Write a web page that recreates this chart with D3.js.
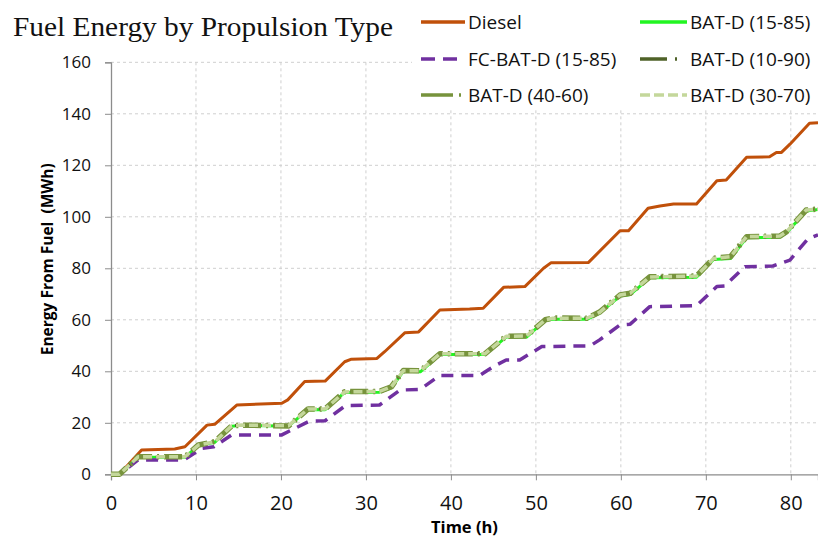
<!DOCTYPE html>
<html>
<head>
<meta charset="utf-8">
<script src="https://cdn.jsdelivr.net/npm/d3@7"></script>
<style>
  body { margin: 0; background: #fff; }
  text { font-family: "Open Sans", sans-serif; }
</style>
</head>
<body>
<svg id="chart" width="818" height="539"></svg>
<script>
// tiempos (h) y energia (MWh) de cada serie
const dieselT = [0, 1, 3.6, 7.5, 8.7, 11.3, 12.2, 14.8, 20.1, 20.8, 22.8, 25.2, 27.5, 28.3, 31.3, 32.2, 34.6, 36.2, 38.7, 42.2, 43.8, 46.2, 48.7, 50.9, 51.8, 56.2, 59.9, 60.9, 63.2, 64.6, 66.2, 68.9, 71.3, 72.4, 74.8, 77.5, 78.3, 78.9, 79.9, 82.2, 83.2];
const diesel  = [0, 0, 9.4, 9.8, 10.7, 19.1, 19.4, 26.9, 27.6, 28.9, 36, 36.2, 43.7, 44.7, 45, 47.6, 55, 55.3, 63.8, 64.2, 64.5, 72.6, 72.9, 80, 82.2, 82.3, 94.6, 94.6, 103.3, 104.2, 105, 105, 114, 114.3, 123.1, 123.3, 125, 125, 128.2, 136.3, 136.5];

const fcT = [0, 1, 3.2, 8.6, 10.7, 12.1, 14.2, 20.1, 23.3, 25.2, 27.6, 31.6, 34, 36.4, 38.7, 43.4, 45, 46.5, 48.1, 50.7, 56.4, 57.5, 59.9, 61.1, 63.4, 68.9, 71.3, 72.2, 74.6, 77.9, 79.9, 82, 83.2];
const fc  = [0, 0, 5.6, 5.6, 10.1, 10.7, 15.3, 15.3, 20.6, 20.8, 26.7, 26.9, 32.7, 33, 38.4, 38.4, 41.8, 44.4, 44.4, 49.6, 49.9, 52.2, 58, 58.3, 65.1, 65.5, 72.9, 73.1, 80.6, 80.9, 83.2, 91.4, 93];

const batT    = [0, 1, 3.2, 8.7, 10.3, 12.2, 14.2, 15.4, 20.9, 23.2, 25.2, 27.5, 31.6, 33, 34.4, 36.4, 38.7, 44, 46.5, 48.9, 51.1, 52, 56, 57.5, 59.9, 61.1, 63.4, 68.9, 70.9, 72.9, 74.8, 78.7, 79.5, 81.8, 83.2];
const bat1585 = [0, 0, 6.6, 6.6, 11.2, 12.4, 18.7, 19, 18.7, 25.2, 25.1, 31.8, 31.9, 33.6, 40, 39.8, 46.5, 46.5, 53.3, 53.3, 59.8, 60.2, 60.2, 62.6, 69.2, 69.8, 76.3, 76.5, 83.4, 83.8, 91.9, 92.1, 93.8, 102.2, 102.8];
const bat1090 = [0, 0, 6.9, 6.9, 11.5, 12.8, 18.9, 19.2, 19, 25.5, 25.5, 32.2, 32.3, 34.2, 40.4, 40.3, 46.9, 46.9, 53.7, 53.8, 60.1, 60.8, 60.7, 63.1, 69.7, 70.4, 76.8, 77.2, 84, 84.6, 92.4, 92.6, 94.3, 102.7, 103.1];
const bat4060 = [0, 0, 6.8, 6.8, 11.4, 12.7, 18.8, 19.1, 18.8, 25.4, 25.4, 32.1, 32.2, 34, 40.3, 40.2, 46.8, 46.8, 53.6, 53.7, 60, 60.7, 60.6, 63, 69.6, 70.3, 76.7, 77, 83.9, 84.5, 92.3, 92.5, 94.2, 102.6, 103];
const bat3070 = [0, 0, 6.8, 6.8, 11.4, 12.6, 18.8, 19.1, 18.9, 25.4, 25.4, 32, 32.2, 34, 40.2, 40.2, 46.8, 46.8, 53.6, 53.7, 60, 60.6, 60.6, 62.9, 69.6, 70.3, 76.6, 77, 83.8, 84.5, 92.3, 92.5, 94.2, 102.6, 103];

const xTicks = [0, 10, 20, 30, 40, 50, 60, 70, 80];
const yTicks = [0, 20, 40, 60, 80, 100, 120, 140, 160];

// series en el orden de dibujo (y de la leyenda)
const series = [
  { name: "Diesel",           t: dieselT, v: diesel,  color: "#c0500a", width: 3,   dash: null,        legDash: null },
  { name: "BAT-D (15-85)",    t: batT,    v: bat1585, color: "#22f522", width: 3,   dash: null,        legDash: null },
  { name: "FC-BAT-D (15-85)", t: fcT,     v: fc,      color: "#7030a0", width: 3.5, dash: "12,8",      legDash: "14,8" },
  { name: "BAT-D (10-90)",    t: batT,    v: bat1090, color: "#4f6228", width: 3,   dash: "16,6,2,6",  legDash: "27,8,2,40" },
  { name: "BAT-D (40-60)",    t: batT,    v: bat4060, color: "#77933c", width: 5.5, dash: "18,5,2,5",  legDash: "32,6,2,40" },
  { name: "BAT-D (30-70)",    t: batT,    v: bat3070, color: "#c4d79b", width: 3.5, dash: "9,4",       legDash: "10,4" }
];

const svg = d3.select("#chart");

// area del grafico
const plotL = 111, plotR = 818, plotT = 62.3, plotB = 474.3;

const x = d3.scaleLinear().domain([0, 83.2]).range([plotL, plotR]);
const y = d3.scaleLinear().domain([0, 160]).range([plotB, plotT]);

// grilla punteada
svg.append("g")
  .selectAll("line")
  .data(yTicks.slice(1))
  .join("line")
  .attr("x1", plotL).attr("x2", plotR)
  .attr("y1", d => y(d)).attr("y2", d => y(d))
  .style("stroke", "#cfcfcf").style("stroke-dasharray", "3,3");

svg.append("g")
  .selectAll("line")
  .data(xTicks.slice(1))
  .join("line")
  .attr("x1", d => x(d)).attr("x2", d => x(d))
  .attr("y1", plotT).attr("y2", plotB)
  .style("stroke", "#cfcfcf").style("stroke-dasharray", "3,3");

// ejes
const yAxis = svg.append("g")
  .attr("transform", `translate(${plotL},0)`)
  .call(d3.axisLeft(y).tickValues(yTicks).tickSize(6).tickPadding(14));
yAxis.select(".domain").style("stroke", "#8c8c8c").style("stroke-width", 1.3);
yAxis.selectAll(".tick line").style("stroke", "#8c8c8c");
yAxis.selectAll(".tick text")
  .style("font-family", "'Open Sans', sans-serif")
  .style("font-size", "17px").style("fill", "#111");

const xAxis = svg.append("g")
  .attr("transform", `translate(0,${plotB})`)
  .call(d3.axisBottom(x).tickValues(xTicks).tickSize(6).tickPadding(16));
xAxis.select(".domain").style("stroke", "#8c8c8c").style("stroke-width", 1.3);
xAxis.selectAll(".tick line").style("stroke", "#8c8c8c");
xAxis.selectAll(".tick text")
  .style("font-family", "'Open Sans', sans-serif")
  .style("font-size", "20px").style("fill", "#111");

// recorte para que las lineas no salgan del grafico
svg.append("clipPath").attr("id", "clip")
  .append("rect")
  .attr("x", plotL).attr("y", 0)
  .attr("width", plotR - plotL).attr("height", plotB + 4);

const line = d3.line()
  .x(d => x(d[0]))
  .y(d => y(d[1]));

const lines = svg.append("g").attr("clip-path", "url(#clip)");
series.forEach(s => {
  const pts = s.t.map((t, i) => [t, s.v[i]]);
  lines.append("path")
    .datum(pts)
    .attr("d", line)
    .style("fill", "none")
    .style("stroke", s.color)
    .style("stroke-width", s.width)
    .style("stroke-linejoin", "round")
    .style("stroke-dasharray", s.dash);
});

// titulos de ejes
svg.append("text")
  .attr("x", (plotL + plotR) / 2).attr("y", 533)
  .attr("text-anchor", "middle")
  .style("font-weight", "bold").style("font-size", "16.5px")
  .text("Time (h)");

svg.append("text")
  .attr("transform", `translate(53,${(plotT + plotB) / 2 - 9}) rotate(-90)`)
  .attr("text-anchor", "middle")
  .style("font-weight", "bold").style("font-size", "15.5px")
  .style("white-space", "pre")
  .text("Energy From Fuel  (MWh)");

// titulo
svg.append("text")
  .attr("x", 13).attr("y", 36)
  .attr("textLength", 380).attr("lengthAdjust", "spacingAndGlyphs")
  .style("font-family", "'Liberation Serif', serif")
  .style("font-size", "27px").style("fill", "#111")
  .text("Fuel Energy by Propulsion Type");

// leyenda con fondo blanco
svg.append("rect")
  .attr("x", 412).attr("y", 0).attr("width", 406).attr("height", 108)
  .style("fill", "#fff");

const legX = [421, 640];
const legY = [22, 59, 95];
series.forEach((s, i) => {
  const cx = legX[i % 2], cy = legY[Math.floor(i / 2)];
  const len = i % 2 == 0 ? 44 : 47;
  svg.append("line")
    .attr("x1", cx).attr("x2", cx + len)
    .attr("y1", cy).attr("y2", cy)
    .style("stroke", s.color)
    .style("stroke-width", 3.5)
    .style("stroke-dasharray", s.legDash);
  svg.append("text")
    .attr("x", cx + len + 3).attr("y", cy)
    .attr("dy", "0.35em")
    .style("font-size", "19px").style("fill", "#111")
    .text(s.name);
});
</script>
</body>
</html>
